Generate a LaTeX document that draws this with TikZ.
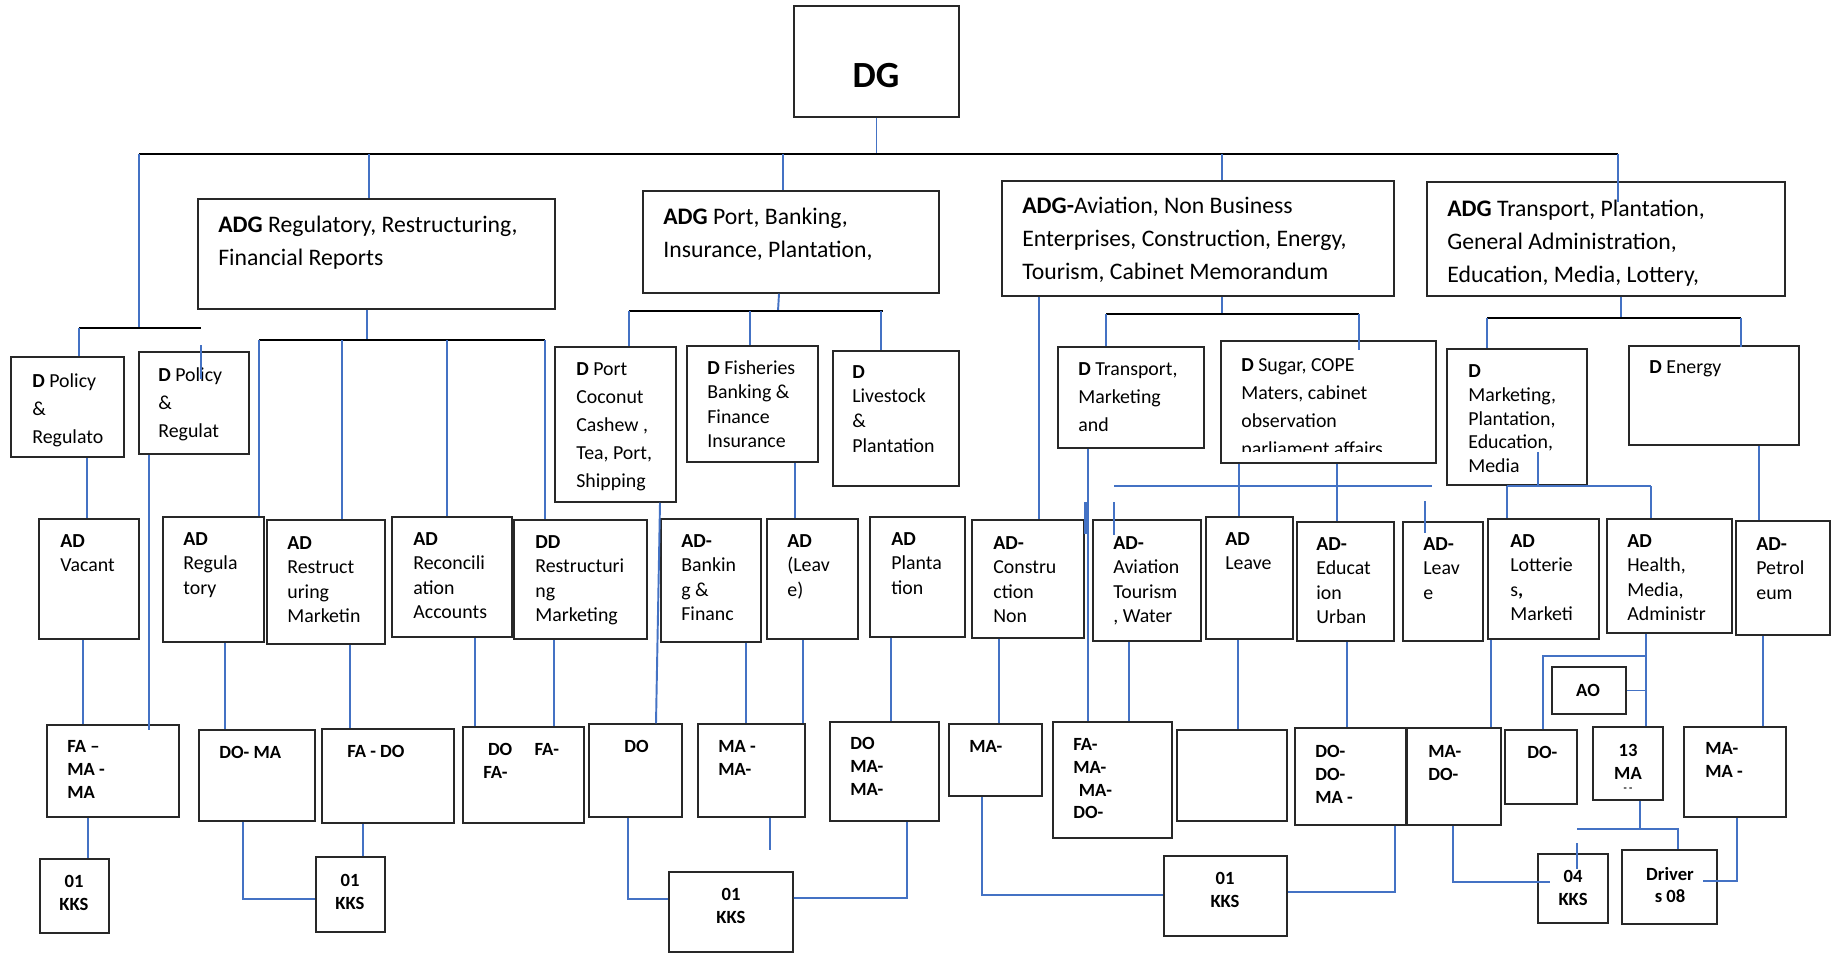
\documentclass[tikz,border=0pt]{standalone}
\usepackage{fontspec}
\setmainfont{Carlito}
\usetikzlibrary{fit}

\begin{document}
\begin{tikzpicture}[x=0.02cm, y=-0.02cm,
    box/.style={draw={rgb,255:red,40; green,40; blue,40}, line width=0.85pt, inner sep=0pt},
    conn/.style={draw={rgb,255:red,68; green,114; blue,196}, line width=1.1pt},
    bus/.style={draw=black, line width=1.4pt},
    adgtxt/.style={anchor=north west, align=left, inner sep=0pt, font=\fontsize{13.5}{18.7}\selectfont},
    dtxt/.style={anchor=north west, align=left, inner sep=0pt, font=\fontsize{11.3}{16}\selectfont},
    adtxt/.style={anchor=north west, align=left, inner sep=0pt, font=\fontsize{11.3}{13.9}\selectfont},
    botxt/.style={anchor=north west, align=left, inner sep=0pt, font=\fontsize{10.6}{13}\selectfont\bfseries},
    kkstxt/.style={align=center, inner sep=0pt, font=\fontsize{10.6}{13}\selectfont\bfseries}]
    \useasboundingbox (0,0) rectangle (1838,953);

    %DG
    \node[box, fit={(794,6) (959,117)}] (dg) {};
    \node[inner sep=0pt, font=\fontsize{21}{25}\selectfont\bfseries] (dg-t) at (876,76) {DG};
    \coordinate (bus0L) at (139,154);
    \coordinate (bus0R) at (1618,154);
    \draw[conn] (dg.south) -- (dg.south |- bus0L);
    \draw[bus] (bus0L) -- (bus0R);

    %ADG boxes
    \node[box, fit={(198,199) (555,309)}] (adgreg) {};
    \node[adgtxt] (adgreg-t) at (218,216) {\textbf{ADG} Regulatory, Restructuring,\\Financial Reports};
    \node[box, fit={(643,191) (939,293)}] (adgport) {};
    \node[adgtxt] (adgport-t) at (663,208) {\textbf{ADG} Port, Banking,\\Insurance, Plantation,};
    \node[box, fit={(1002,181) (1394,296)}] (adgav) {};
    \node[adgtxt] (adgav-t) at (1022,197) {\textbf{ADG-}Aviation, Non Business\\Enterprises, Construction, Energy,\\Tourism, Cabinet Memorandum};
    \node[box, fit={(1427,182) (1785,296)}] (adgtr) {};
    \node[adgtxt] (adgtr-t) at (1447,200) {\textbf{ADG} Transport, Plantation,\\General Administration,\\Education, Media, Lottery,};
    \draw[conn] (bus0L -| 369,0) -- (adgreg.north -| 369,0);
    \draw[conn] (bus0L -| 783,0) -- (adgport.north -| 783,0);
    \draw[conn] (bus0L -| 1222,0) -- (adgav.north -| 1222,0);
    \draw[conn] (bus0L -| 1618,0) -- (adgtr.north -| 1618,0) -- ++(0,21);

    %D Policy
    \coordinate (bus1L) at (79,328);
    \coordinate (bus1R) at (201,328);
    \node[box, fit={(11,357) (124,457)}] (dpol1) {};
    \node[dtxt] (dpol1-t) at (32,373) {\textbf{D} Policy\\\&\\Regulato};
    \node[box, fit={(139,352) (249,454)}] (dpol2) {};
    \node[dtxt] (dpol2-t) at (158,367) {\textbf{D} Policy\\\&\\Regulat};
    \draw[conn] (bus0L) -- (bus0L |- bus1L);
    \draw[bus] (bus1L) -- (bus1R);
    \draw[conn] (bus1L) -- (dpol1.north -| bus1L);
    \draw[conn] (dpol2.north -| bus1R) ++(0,-6) -- ++(0,34);

    \node[box, fit={(39,519) (139,639)}] (advac) {};
    \node[adtxt] (advac-t) at (60,534) {\textbf{AD}\\Vacant};
    \node[box, fit={(47,725) (179,817)}] (fa1) {};
    \node[botxt] (fa1-t) at (67,740) {FA –\\MA -\\MA};
    \node[box, fit={(40,859) (109,933)}] (kks1) {};
    \node[kkstxt] (kks1-t) at (74,893) {01\\KKS};
    \draw[conn] (dpol1.south -| 87,0) -- (advac.north -| 87,0);
    \draw[conn] (dpol2.south -| 149,0) -- (fa1.north -| 149,0) -- ++(0,6);
    \draw[conn] (advac.south -| 83,0) -- (fa1.north -| 83,0);
    \draw[conn] (fa1.south -| 88,0) -- (kks1.north -| 88,0);

    %ADG Regulatory
    \coordinate (bus2L) at (259,340);
    \coordinate (bus2R) at (545,340);
    \draw[conn] (adgreg.south -| 367,0) -- (bus2L -| 367,0);
    \draw[bus] (bus2L) -- (bus2R);
    \node[box, fit={(163,517) (264,642)}] (adreg) {};
    \node[adtxt] (adreg-t) at (183,532) {\textbf{AD}\\Regula\\tory};
    \node[box, fit={(267,520) (385,644)}] (adres) {};
    \node[adtxt] (adres-t) at (287,536) {\textbf{AD}\\Restruct\\uring\\Marketin};
    \node[box, fit={(392,517) (512,637)}] (adrec) {};
    \node[adtxt] (adrec-t) at (413,532) {\textbf{AD}\\Reconcili\\ation\\Accounts};
    \node[box, fit={(514,520) (647,639)}] (ddres) {};
    \node[adtxt] (ddres-t) at (535,535) {\textbf{DD}\\Restructuri\\ng\\Marketing};
    \draw[conn] (bus2L) -- (adreg.north -| bus2L);
    \draw[conn] (bus2L -| 342,0) -- (adres.north -| 342,0);
    \draw[conn] (bus2L -| 447,0) -- (adrec.north -| 447,0);
    \draw[conn] (bus2R) -- (ddres.north -| bus2R);

    \node[box, fit={(199,730) (315,821)}] (doma) {};
    \node[botxt] (doma-t) at (219,746) {DO- MA};
    \node[box, fit={(322,729) (454,823)}] (fado) {};
    \node[botxt] (fado-t) at (347,745) {FA - DO};
    \node[box, fit={(463,727) (584,823)}] (dofa) {};
    \node[botxt] (dofa-t) at (483,743) {\hspace*{0.25em}DO\hspace{1.2em}FA-\\FA-};
    \node[box, fit={(316,857) (385,932)}] (kks2) {};
    \node[kkstxt] (kks2-t) at (350,892) {01\\KKS};
    \draw[conn] (adreg.south -| 225,0) -- (doma.north -| 225,0);
    \draw[conn] (adres.south -| 350,0) -- (fado.north -| 350,0);
    \draw[conn] (adrec.south -| 475,0) -- (dofa.north -| 475,0);
    \draw[conn] (ddres.south -| 554,0) -- (dofa.north -| 554,0);
    \draw[conn] (doma.south -| 243,0) |- (kks2.west |- 0,899);
    \draw[conn] (fado.south -| 363,0) -- (kks2.north -| 363,0);

    %ADG Port
    \coordinate (bus3L) at (629,311);
    \coordinate (bus3R) at (883,311);
    \draw[conn] (adgport.south -| 779,0) -- (bus3L -| 778,0);
    \draw[bus] (bus3L) -- (bus3R);
    \node[box, fit={(555,347) (676,502)}] (dport) {};
    \node[dtxt] (dport-t) at (576,362) {\textbf{D} Port\\Coconut\\Cashew ,\\Tea, Port,\\Shipping};
    \node[box, fit={(687,346) (818,462)}] (dfish) {};
    \node[adtxt, font=\fontsize{11.3}{14}\selectfont] (dfish-t) at (707,360) {\textbf{D} Fisheries\\Banking \&\\Finance\\Insurance};
    \node[box, fit={(833,351) (959,486)}] (dlive) {};
    \node[adtxt, font=\fontsize{11.3}{14}\selectfont] (dlive-t) at (852,365) {\textbf{D}\\Livestock\\\&\\Plantation};
    \draw[conn] (bus3L) -- (dport.north -| bus3L);
    \draw[conn] (bus3L -| 750,0) -- (dfish.north -| 750,0);
    \draw[conn] (bus3L -| 881,0) -- (dlive.north -| 881,0);

    \node[box, fit={(661,519) (761,642)}] (adbank) {};
    \node[adtxt] (adbank-t) at (681,534) {\textbf{AD-}\\Bankin\\g \&\\Financ};
    \node[box, fit={(767,519) (858,639)}] (adleave1) {};
    \node[adtxt] (adleave1-t) at (787,534) {\textbf{AD}\\(Leav\\e)};
    \node[box, fit={(870,517) (965,637)}] (adplant) {};
    \node[adtxt] (adplant-t) at (891,532) {\textbf{AD}\\Planta\\tion};
    \draw[conn] (dfish.south -| 795,0) -- (adleave1.north -| 795,0);

    \node[box, fit={(589,724) (682,817)}] (do1) {};
    \node[botxt] (do1-t) at (624,740) {DO};
    \node[box, fit={(698,724) (805,817)}] (mama1) {};
    \node[botxt] (mama1-t) at (718,740) {MA -\\MA-};
    \node[box, fit={(830,722) (939,821)}] (domama) {};
    \node[botxt] (domama-t) at (850,737) {DO\\MA-\\MA-};
    \node[box, fit={(669,872) (793,952)}] (kks3) {};
    \node[kkstxt] (kks3-t) at (731,906) {01\\KKS};
    \draw[conn] (dport.south -| 660,0) -- (do1.north -| 656,0);
    \draw[conn] (adbank.south -| 746,0) -- (mama1.north -| 746,0);
    \draw[conn] (adleave1.south -| 803,0) -- (mama1.north -| 803,0);
    \draw[conn] (mama1.south -| 770,0) -- ++(0,32);
    \draw[conn] (adplant.south -| 891,0) -- (domama.north -| 891,0);
    \draw[conn] (do1.south -| 628,0) |- (kks3.west |- 0,899);
    \draw[conn] (domama.south -| 907,0) |- (kks3.east |- 0,898) -- ++(7,0);

    %ADG Aviation
    \coordinate (bus4L) at (1106,314);
    \coordinate (bus4R) at (1359,314);
    \draw[conn] (adgav.south -| 1222,0) -- (bus4L -| 1222,0);
    \draw[bus] (bus4L) -- (bus4R);
    \node[box, fit={(1058,347) (1204,448)}] (dtrans) {};
    \node[dtxt] (dtrans-t) at (1078,362) {\textbf{D} Transport,\\Marketing\\and};
    \node[box, fit={(1221,341) (1436,463)}] (dsugar) {};
    \begin{scope}
        \clip (1221,341) rectangle (1436,451);
        \node[dtxt] (dsugar-t) at (1241,358) {\textbf{D} Sugar, COPE\\Maters, cabinet\\observation\\parliament affairs};
    \end{scope}
    \draw[conn] (bus4L) -- (dtrans.north -| bus4L);
    \draw[conn] (bus4R) -- (dsugar.north -| bus4R) -- ++(0,10);

    \node[box, fit={(972,520) (1084,638)}] (adcons) {};
    \node[adtxt] (adcons-t) at (993,536) {\textbf{AD-}\\Constru\\ction\\Non};
    \node[box, fit={(1093,520) (1201,641)}] (adav) {};
    \node[adtxt] (adav-t) at (1113,536) {\textbf{AD-}\\Aviation\\Tourism\\, Water};
    \node[box, fit={(1206,517) (1293,639)}] (adleave2) {};
    \node[adtxt] (adleave2-t) at (1225,532) {\textbf{AD}\\Leave};
    \node[box, fit={(1297,522) (1394,641)}] (adedu) {};
    \node[adtxt] (adedu-t) at (1316,537) {\textbf{AD-}\\Educat\\ion\\Urban};
    \node[box, fit={(1403,522) (1483,641)}] (adleave3) {};
    \node[adtxt] (adleave3-t) at (1423,537) {\textbf{AD-}\\Leav\\e};
    \coordinate (bus5L) at (1114,486);
    \coordinate (bus5R) at (1432,486);
    \draw[conn] (bus5L) -- (bus5R);
    \draw[conn] (adgav.south -| 1039,0) -- (adcons.north -| 1039,0);
    \draw[conn] (dsugar.south -| 1239,0) -- (adleave2.north -| 1239,0);
    \draw[conn] (dsugar.south -| 1337,0) -- (adedu.north -| 1337,0);
    \draw[conn] (adav.north -| 1114,0) ++(0,-17) -- ++(0,33);
    \draw[conn] (adleave3.north -| 1425,0) ++(0,-20) -- ++(0,32);

    \node[box, fit={(949,724) (1042,796)}] (ma1) {};
    \node[botxt] (ma1-t) at (969,740) {MA-};
    \node[box, fit={(1053,722) (1172,838)}] (famamado) {};
    \node[botxt] (famamado-t) at (1073,738) {FA-\\MA-\\\hspace*{0.3em}MA-\\DO-};
    \node[box, fit={(1177,730) (1287,821)}] (empty) {};
    \node[box, fit={(1295,728) (1406,825)}] (dodoma) {};
    \node[botxt] (dodoma-t) at (1315,745) {DO-\\DO-\\MA -};
    \node[box, fit={(1407,728) (1501,825)}] (mado) {};
    \node[botxt] (mado-t) at (1428,745) {MA-\\DO-};
    \node[box, fit={(1164,856) (1287,936)}] (kks4) {};
    \node[kkstxt] (kks4-t) at (1225,890) {01\\KKS};
    \draw[conn] (dtrans.south -| 1088,0) -- (famamado.north -| 1088,0);
    \draw[conn, line width=2pt] (adav.north -| 1086,0) ++(0,-17) -- ++(0,32);
    \draw[conn] (adcons.south -| 999,0) -- (ma1.north -| 999,0);
    \draw[conn] (adav.south -| 1129,0) -- (famamado.north -| 1129,0);
    \draw[conn] (adleave2.south -| 1238,0) -- (empty.north -| 1238,0);
    \draw[conn] (adedu.south -| 1347,0) -- (dodoma.north -| 1347,0);
    \draw[conn] (ma1.south -| 982,0) |- (kks4.west |- 0,895);
    \draw[conn] (dodoma.south -| 1395,0) |- (kks4.east |- 0,892);

    %ADG Transport
    \coordinate (bus6L) at (1487,318);
    \coordinate (bus6R) at (1741,318);
    \draw[conn] (adgtr.south -| 1621,0) -- (bus6L -| 1621,0);
    \draw[bus] (bus6L) -- (bus6R);
    \node[box, fit={(1447,349) (1587,485)}] (dmkt) {};
    \node[adtxt, font=\fontsize{11.3}{13.6}\selectfont] (dmkt-t) at (1468,364) {\textbf{D}\\Marketing,\\Plantation,\\Education,\\Media};
    \node[box, fit={(1629,346) (1799,445)}] (denergy) {};
    \node[dtxt] (denergy-t) at (1649,360) {\textbf{D} Energy};
    \draw[conn] (bus6L) -- (dmkt.north -| bus6L);
    \draw[conn] (bus6R) -- (denergy.north -| bus6R) -- ++(0,2);

    \node[box, fit={(1488,519) (1599,639)}] (adlot) {};
    \node[adtxt] (adlot-t) at (1510,534) {\textbf{AD}\\Lotterie\\s\textbf{,}\\Marketi};
    \node[box, fit={(1607,519) (1732,633)}] (adhealth) {};
    \node[adtxt] (adhealth-t) at (1627,534) {\textbf{AD}\\Health,\\Media,\\Administr};
    \node[box, fit={(1736,521) (1830,635)}] (adpet) {};
    \node[adtxt] (adpet-t) at (1756,537) {\textbf{AD-}\\Petrol\\eum};
    \coordinate (bus7L) at (1507,486);
    \coordinate (bus7R) at (1651,486);
    \draw[conn] (dmkt.south -| 1538,0) ++(0,-34) -- (bus7L -| 1538,0);
    \draw[conn] (bus7L) -- (bus7R);
    \draw[conn] (bus7L) -- (adlot.north -| bus7L);
    \draw[conn] (bus7R) -- (adhealth.north -| bus7R);
    \draw[conn] (denergy.south -| 1759,0) -- (adpet.north -| 1759,0);

    \node[box, fit={(1552,667) (1626,714)}] (ao) {};
    \node[kkstxt] (ao-t) at (1588,690) {AO};
    \node[box, fit={(1505,730) (1577,804)}] (do2) {};
    \node[botxt] (do2-t) at (1527,746) {DO-};
    \node[box, fit={(1593,727) (1663,800)}] (ma13) {};
    \node[kkstxt] (ma13-t) at (1628,762) {13\\MA};
    \node[inner sep=0pt, font=\fontsize{6}{6}\selectfont\bfseries] (ma13-d) at (1628,790) {- -};
    \node[box, fit={(1684,727) (1786,817)}] (mama2) {};
    \node[botxt] (mama2-t) at (1705,742) {MA-\\MA -};
    \node[box, fit={(1538,854) (1608,923)}] (kks04) {};
    \node[kkstxt] (kks04-t) at (1573,888) {04\\KKS};
    \node[box, fit={(1622,850) (1717,924)}] (drivers) {};
    \node[kkstxt] (drivers-t) at (1670,885) {Driver\\s 08};
    \coordinate (hj) at (1646,656);
    \draw[conn] (adlot.south -| 1491,0) -- (mado.north -| 1491,0);
    \draw[conn] (mado.south -| 1453,0) |- (kks04.west |- 0,882) -- ++(13,0);
    \draw[conn] (adhealth.south -| 1646,0) -- (ma13.north -| 1646,0);
    \draw[conn] (do2.north -| 1543,0) |- (hj);
    \draw[conn] (ao.east) -- (ao.east -| hj);
    \draw[conn] (ma13.south -| 1640,0) -- ++(0,28) coordinate (dj);
    \draw[conn] (dj -| 1577,0) -- (dj -| 1678,0) -- (drivers.north -| 1678,0);
    \draw[conn] (kks04.north -| 1577,0) ++(0,-10) -- ++(0,26);
    \draw[conn] (adpet.south -| 1763,0) -- (mama2.north -| 1763,0);
    \draw[conn] (mama2.south -| 1737,0) |- (drivers.east |- 0,881) -- ++(-15,0);
\end{tikzpicture}
\end{document}
